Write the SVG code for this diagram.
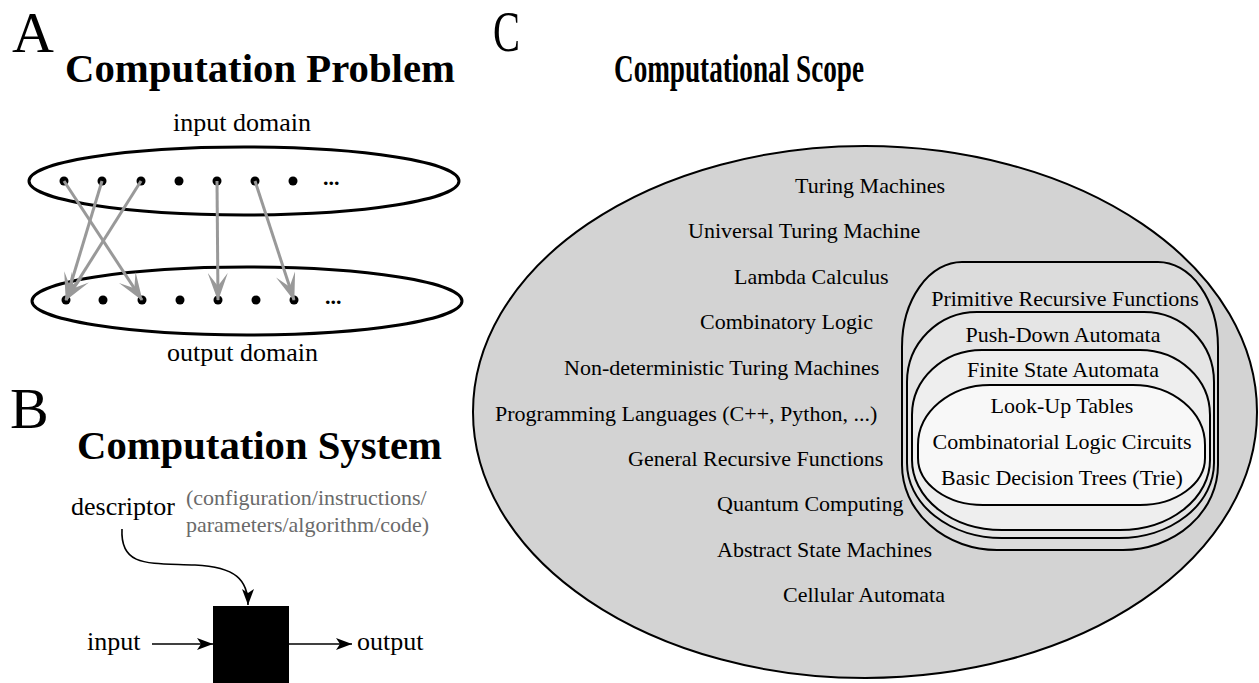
<svg xmlns="http://www.w3.org/2000/svg" width="1259" height="683" viewBox="0 0 1259 683">
<style>
text{font-family:"Liberation Serif","Times New Roman",serif;fill:#000}
.big{font-size:58px}
.title{font-size:41px;font-weight:bold}
.lbl{font-size:26px}
.c{font-size:22px}
.mid{text-anchor:middle}
.gray{fill:#6a6a6a;font-size:22px}
.dom{fill:none;stroke:#000;stroke-width:3}
.dot{fill:#000}
.map{stroke:#999;stroke-width:3;fill:none;marker-end:url(#ga)}
.blk{stroke:#000;stroke-width:1.6;fill:none;marker-end:url(#ba)}
.set{stroke:#000;stroke-width:2}
</style>
<defs>
<marker id="ga" viewBox="0 0 28 20" refX="27" refY="10" markerWidth="28" markerHeight="20" markerUnits="userSpaceOnUse" orient="auto">
<path d="M0,0 L28,10 L0,20 L13,10 Z" fill="#999"/>
</marker>
<marker id="ba" viewBox="0 0 16 12" refX="16" refY="6" markerWidth="16" markerHeight="12" markerUnits="userSpaceOnUse" orient="auto">
<path d="M0,0 L16,6 L0,12 L4,6 Z" fill="#000"/>
</marker>
</defs>

<g id="panelA">
<text class="big" x="12" y="52">A</text>
<text class="title" x="65" y="82" textLength="390" lengthAdjust="spacingAndGlyphs">Computation Problem</text>
<g id="input-domain">
<text class="lbl" x="173" y="131">input domain</text>
<ellipse class="dom" cx="244" cy="181" rx="215" ry="34"/>
<circle class="dot" cx="64" cy="181" r="4.5"/>
<circle class="dot" cx="102" cy="181" r="4.5"/>
<circle class="dot" cx="141" cy="181" r="4.5"/>
<circle class="dot" cx="179" cy="181" r="4.5"/>
<circle class="dot" cx="217" cy="181" r="4.5"/>
<circle class="dot" cx="255" cy="181" r="4.5"/>
<circle class="dot" cx="293" cy="181" r="4.5"/>
<text class="c" x="323" y="185" style="font-weight:bold">...</text>
</g>
<g id="output-domain">
<ellipse class="dom" cx="247" cy="301" rx="215" ry="34"/>
<circle class="dot" cx="66" cy="300" r="4.5"/>
<circle class="dot" cx="103" cy="300" r="4.5"/>
<circle class="dot" cx="142" cy="300" r="4.5"/>
<circle class="dot" cx="180" cy="300" r="4.5"/>
<circle class="dot" cx="218" cy="300" r="4.5"/>
<circle class="dot" cx="256" cy="300" r="4.5"/>
<circle class="dot" cx="294" cy="300" r="4.5"/>
<text class="c" x="325" y="304" style="font-weight:bold">...</text>
<text class="lbl" x="167" y="361">output domain</text>
</g>
</g>

<g id="connectors">
<line class="map" x1="64" y1="181" x2="142" y2="300"/>
<line class="map" x1="102" y1="181" x2="66" y2="300"/>
<line class="map" x1="141" y1="181" x2="66" y2="300"/>
<line class="map" x1="217" y1="181" x2="218" y2="300"/>
<line class="map" x1="255" y1="181" x2="294" y2="300"/>
<path class="blk" d="M122,529 C120,568 150,563 195,565 C236,567 248,580 248,605"/>
<line class="blk" x1="152" y1="644" x2="213" y2="644"/>
<line class="blk" x1="289" y1="644" x2="352" y2="644"/>
</g>

<g id="panelB">
<text class="big" x="10" y="428">B</text>
<text class="title" x="77" y="459" textLength="365" lengthAdjust="spacingAndGlyphs">Computation System</text>
<g id="descriptor">
<text class="lbl" x="71" y="515">descriptor</text>
<text class="gray" x="186" y="505">(configuration/instructions/</text>
<text class="gray" x="186" y="532">parameters/algorithm/code)</text>
</g>
<g id="system"><rect x="213" y="606" width="76" height="80" fill="#000"/></g>
<g id="input"><text class="lbl" x="87" y="650">input</text></g>
<g id="output"><text class="lbl" x="357" y="650">output</text></g>
</g>

<g id="panelC">
<text class="big" x="493" y="51" textLength="27" lengthAdjust="spacingAndGlyphs">C</text>
<text class="title" x="614" y="82" textLength="250" lengthAdjust="spacingAndGlyphs">Computational Scope</text>
<g id="turing-complete">
<ellipse class="set" cx="865" cy="412" rx="392" ry="266" fill="#d3d3d3"/>
<text class="c" x="795" y="193">Turing Machines</text>
<text class="c" x="688" y="238">Universal Turing Machine</text>
<text class="c" x="734" y="284">Lambda Calculus</text>
<text class="c" x="700" y="329">Combinatory Logic</text>
<text class="c" x="564" y="375">Non-deterministic Turing Machines</text>
<text class="c" x="495" y="421">Programming Languages (C++, Python, ...)</text>
<text class="c" x="628" y="466">General Recursive Functions</text>
<text class="c" x="717" y="511">Quantum Computing</text>
<text class="c" x="717" y="557">Abstract State Machines</text>
<text class="c" x="783" y="602">Cellular Automata</text>
</g>
<g id="primitive-recursive">
<path class="set" fill="#dcdcdc" d="M962,262 H1158 A60 85 0 0 1 1218,347 V465 A95 85 0 0 1 1123,550 H997 A95 85 0 0 1 902,465 V347 A60 85 0 0 1 962,262 Z"/>
<text class="c mid" x="1065" y="306">Primitive Recursive Functions</text>
</g>
<g id="push-down">
<path class="set" fill="#e5e5e5" d="M977,312 H1144 A70 70 0 0 1 1214,382 V463 A95 75 0 0 1 1119,538 H1002 A95 75 0 0 1 907,463 V382 A70 70 0 0 1 977,312 Z"/>
<text class="c mid" x="1063" y="342">Push-Down Automata</text>
</g>
<g id="finite-state">
<path class="set" fill="#eeeeee" d="M982,350 H1140 A70 65 0 0 1 1210,415 V460 A90 70 0 0 1 1120,530 H1002 A90 70 0 0 1 912,460 V415 A70 65 0 0 1 982,350 Z"/>
<text class="c mid" x="1063" y="377">Finite State Automata</text>
</g>
<g id="lookup">
<path class="set" fill="#f8f8f8" d="M990,385 H1133 A72 60 0 0 1 1205,445 V458 A65 47 0 0 1 1140,505 H983 A65 47 0 0 1 918,458 V445 A72 60 0 0 1 990,385 Z"/>
<text class="c mid" x="1062" y="413">Look-Up Tables</text>
<text class="c mid" x="1062" y="449">Combinatorial Logic Circuits</text>
<text class="c mid" x="1062" y="485">Basic Decision Trees (Trie)</text>
</g>
</g>
</svg>
